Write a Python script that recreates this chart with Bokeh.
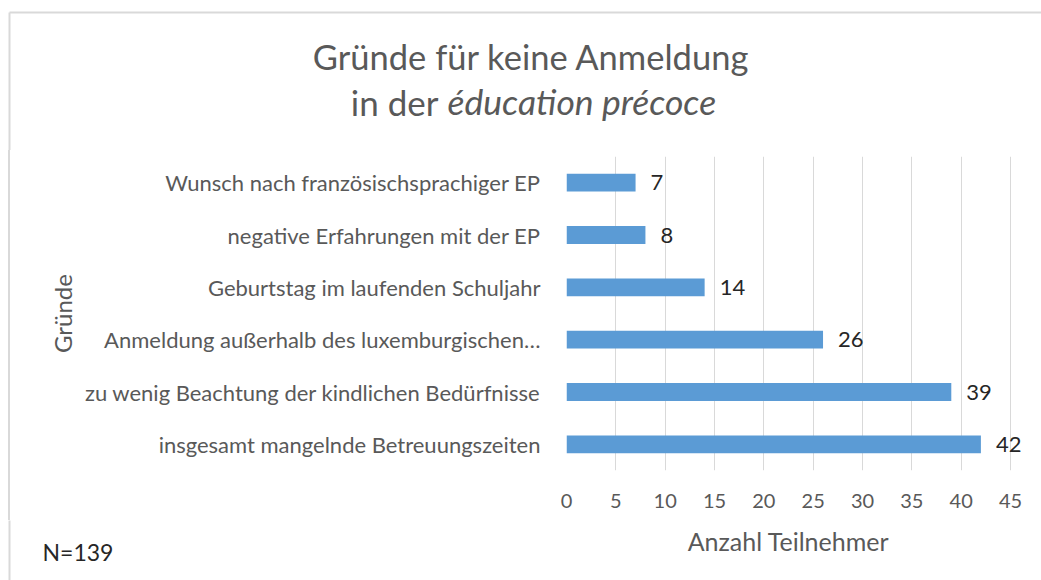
from bokeh.plotting import figure
from bokeh.layouts import column, row
from bokeh.models import ColumnDataSource, FixedTicker, Range1d, Div
from bokeh.core.properties import value
from bokeh.embed import file_html
from bokeh.resources import INLINE

categories = [
    "Wunsch nach französischsprachiger EP",
    "negative Erfahrungen mit der EP",
    "Geburtstag im laufenden Schuljahr",
    "Anmeldung außerhalb des luxemburgischen…",
    "zu wenig Beachtung der kindlichen Bedürfnisse",
    "insgesamt mangelnde Betreuungszeiten",
]
counts = [7, 8, 14, 26, 39, 42]
x_ticks = [0, 5, 10, 15, 20, 25, 30, 35, 40, 45]
title_line1 = "Gründe für keine Anmeldung"
title_line2_plain = "in der"
title_line2_italic = "éducation précoce"
x_title = "Anzahl Teilnehmer"
y_title = "Gründe"
note = "N=139"

FONT = "Lato"
GRAY = "#595959"
DARK = "#262626"
BORDER = "#D9D9D9"
W, H = 1041, 580
TOP_H = 150          # title strip height
BOT_Y = 520          # where the bottom strip starts
STRIP_W = 10         # width of the strip carrying the left border
FL, FT, FB = 566, 156, 470   # frame left/top/bottom in window pixels
PX_PER_UNIT = 444 / 45
FRAME_R = 1036
X_MAX = (FRAME_R - FL) / PX_PER_UNIT


def blank(width, height):
    f = figure(width=width, height=height, x_range=Range1d(0, width),
               y_range=Range1d(height, 0), output_backend="svg",
               toolbar_location=None, x_axis_location=None, y_axis_location=None,
               min_border=0, margin=0)
    f.outline_line_color = None
    f.grid.visible = False
    f.background_fill_color = "white"
    f.border_fill_color = "white"
    return f


# --- title strip -----------------------------------------------------------
top = blank(W, TOP_H)
top.line([9, W + 5], [12, 12], line_color=BORDER, line_width=2)
top.line([9, 9], [12, TOP_H + 5], line_color=BORDER, line_width=2)
top.text([531], [56], text=[title_line1], text_align="center", text_baseline="middle",
         text_font=value(FONT), text_font_size="34.5px", text_color=GRAY)
top.text([438], [101], text=[title_line2_plain], text_align="right", text_baseline="middle",
         text_font=value(FONT), text_font_size="35px", text_color=GRAY)
top.text([447], [101], text=[title_line2_italic], text_align="left", text_baseline="middle",
         text_font=value(FONT), text_font_size="35.5px", text_color=GRAY,
         text_font_style="italic")

# --- left border strip -----------------------------------------------------
strip = Div(text="", width=STRIP_W, height=BOT_Y - TOP_H, margin=0,
            styles={"box-sizing": "border-box", "border-right": "2px solid " + BORDER})

# --- bottom strip ----------------------------------------------------------
bottom = blank(W, H - BOT_Y)
bottom.line([9, 9], [-5, H - BOT_Y + 5], line_color=BORDER, line_width=2)
bottom.text([788], [540 - BOT_Y], text=[x_title], text_align="center", text_baseline="middle",
            text_font=value(FONT), text_font_size="25px", text_color=GRAY)
bottom.text([42], [551 - BOT_Y], text=[note], text_align="left", text_baseline="middle",
            text_font=value(FONT), text_font_size="23px", text_color=DARK)

# --- main chart ------------------------------------------------------------
src = ColumnDataSource(dict(cat=categories, val=counts, lab=[str(c) for c in counts]))

p = figure(
    width=W - STRIP_W, height=BOT_Y - TOP_H,
    y_range=list(reversed(categories)),
    x_range=Range1d(0, X_MAX),
    output_backend="svg", toolbar_location=None, margin=0,
    min_border_left=FL - STRIP_W, min_border_right=W - FRAME_R,
    min_border_top=FT - TOP_H, min_border_bottom=BOT_Y - FB,
)
p.outline_line_color = None
p.background_fill_color = "white"
p.border_fill_color = "white"

p.hbar(y="cat", right="val", left=0, height=0.34, source=src,
       fill_color="#5B9BD5", line_color=None)
p.text(x="val", y="cat", text="lab", source=src, x_offset=15,
       text_align="left", text_baseline="middle",
       text_font=value(FONT), text_font_size="22px", text_color=DARK)

p.xaxis.ticker = FixedTicker(ticks=x_ticks)
p.xaxis.axis_line_color = None
p.xaxis.major_tick_line_color = None
p.xaxis.minor_tick_line_color = None
p.xaxis.major_label_standoff = 17
p.xaxis.major_label_text_font = FONT
p.xaxis.major_label_text_font_size = "20px"
p.xaxis.major_label_text_color = GRAY

p.yaxis.axis_line_color = None
p.yaxis.major_tick_line_color = None
p.yaxis.minor_tick_line_color = None
p.yaxis.major_label_standoff = 20
p.yaxis.major_label_text_font = FONT
p.yaxis.major_label_text_font_size = "22px"
p.yaxis.major_label_text_color = GRAY
p.yaxis.axis_label = y_title
p.yaxis.axis_label_standoff = 5
p.yaxis.axis_label_text_font = FONT
p.yaxis.axis_label_text_font_size = "24px"
p.yaxis.axis_label_text_font_style = "normal"
p.yaxis.axis_label_text_color = GRAY

p.xgrid.grid_line_color = BORDER
p.xgrid.grid_line_width = 1
p.ygrid.grid_line_color = None

layout = column(top, row(strip, p, spacing=0, margin=0), bottom, spacing=0, margin=0)
open("out.html", "w").write(file_html(layout, INLINE))
